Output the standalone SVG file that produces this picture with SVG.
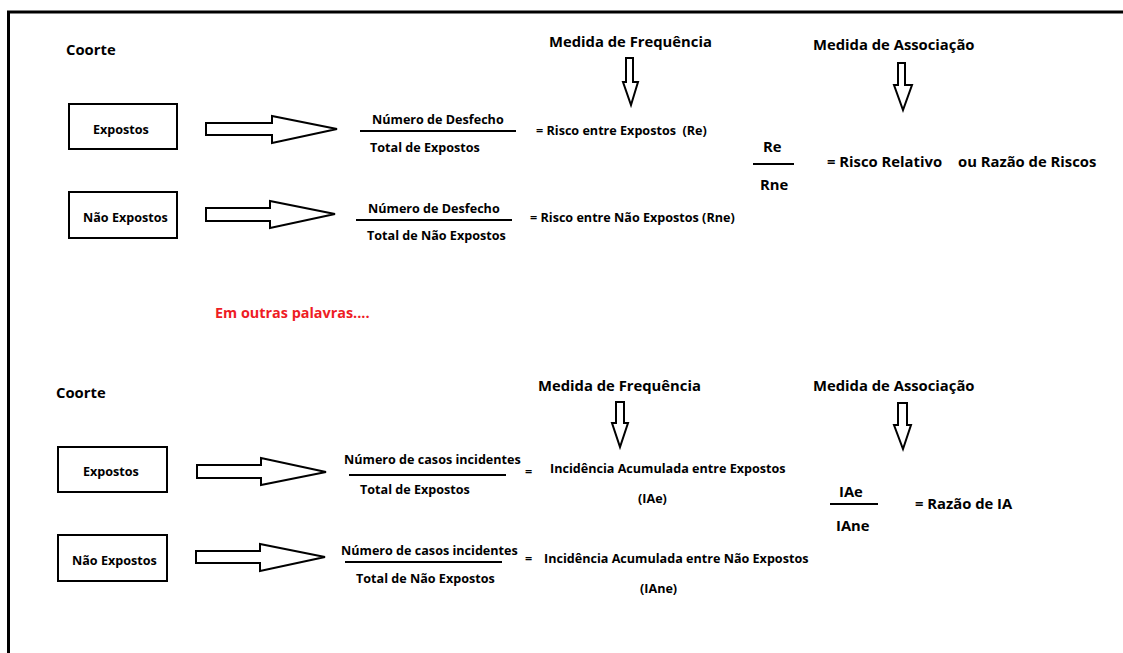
<svg xmlns="http://www.w3.org/2000/svg" width="1123" height="653" viewBox="0 0 1123 653">
<style>
text{font-family:"Open Sans","Liberation Sans",sans-serif;font-weight:bold;fill:#000}
.h{font-size:14.8px}
.s{font-size:12.6px}
.red{fill:#ee1c24;font-size:14.4px}
.box{fill:#fff;stroke:#000;stroke-width:2}
.arr{fill:#fff;stroke:#000;stroke-width:2;stroke-linejoin:miter}
.fl{stroke:#000;stroke-width:2}
</style>
<rect width="1123" height="653" fill="#fff"/>
<g id="frame"><path d="M8.5 653V12H1123" fill="none" stroke="#000" stroke-width="3"/></g>

<g id="top-coorte"><text class="h" x="66" y="55">Coorte</text></g>
<g id="top-expostos"><rect class="box" x="69" y="104" width="108" height="45"/><text class="s" x="93" y="134">Expostos</text></g>
<g id="top-nao-expostos"><rect class="box" x="69" y="192" width="108" height="46"/><text class="s" x="83" y="222">Não Expostos</text></g>

<g id="top-freq-label"><text class="h" x="549" y="47">Medida de Frequência</text></g>
<g id="top-assoc-label"><text class="h" x="813" y="50">Medida de Associação</text></g>

<g id="top-frac1">
<text class="s" x="372" y="124">Número de Desfecho</text>
<line class="fl" x1="360" y1="131" x2="516" y2="131"/>
<text class="s" x="370" y="152">Total de Expostos</text>
<text class="s" x="536" y="135" xml:space="preserve">= Risco entre Expostos  (Re)</text>
</g>
<g id="top-frac2">
<text class="s" x="368" y="213">Número de Desfecho</text>
<line class="fl" x1="356" y1="220" x2="512" y2="220"/>
<text class="s" x="367" y="240">Total de Não Expostos</text>
<text class="s" x="530" y="222">= Risco entre Não Expostos (Rne)</text>
</g>
<g id="top-ratio">
<text class="h" x="763" y="152">Re</text>
<line class="fl" x1="753" y1="164" x2="794" y2="164"/>
<text class="h" x="760" y="190">Rne</text>
<text class="h" x="827" y="167">= Risco Relativo</text>
<text class="h" x="958" y="167">ou Razão de Riscos</text>
</g>

<g id="red-note"><text class="red" x="215" y="318">Em outras palavras....</text></g>

<g id="bot-coorte"><text class="h" x="56" y="398">Coorte</text></g>
<g id="bot-expostos"><rect class="box" x="58" y="447" width="109" height="45"/><text class="s" x="83" y="476">Expostos</text></g>
<g id="bot-nao-expostos"><rect class="box" x="58" y="535" width="109" height="46"/><text class="s" x="72" y="565">Não Expostos</text></g>

<g id="bot-freq-label"><text class="h" x="538" y="391">Medida de Frequência</text></g>
<g id="bot-assoc-label"><text class="h" x="813" y="391">Medida de Associação</text></g>

<g id="bot-frac1">
<text class="s" x="344" y="464">Número de casos incidentes</text>
<line class="fl" x1="349" y1="475" x2="506" y2="475"/>
<text class="s" x="360" y="494">Total de Expostos</text>
<text class="s" x="525" y="476">=</text>
<text class="s" x="550" y="473">Incidência Acumulada entre Expostos</text>
<text class="s" x="638" y="503">(IAe)</text>
</g>
<g id="bot-frac2">
<text class="s" x="341" y="555">Número de casos incidentes</text>
<line class="fl" x1="345" y1="562" x2="502" y2="562"/>
<text class="s" x="356" y="583">Total de Não Expostos</text>
<text class="s" x="525" y="563">=</text>
<text class="s" x="544" y="563">Incidência Acumulada entre Não Expostos</text>
<text class="s" x="640" y="593">(IAne)</text>
</g>
<g id="bot-ratio">
<text class="h" x="839" y="497">IAe</text>
<line class="fl" x1="830" y1="504" x2="878" y2="504"/>
<text class="h" x="836" y="531">IAne</text>
<text class="h" x="915" y="509">= Razão de IA</text>
</g>

<g id="connectors">
<polygon class="arr" points="206,123 272,123 272,116 337,129 272,143 272,135 206,135"/>
<polygon class="arr" points="206,208 270,208 270,201 335,214 270,228 270,221 206,221"/>
<polygon class="arr" points="197,465 261,465 261,458 326,472 261,485 261,478 197,478"/>
<polygon class="arr" points="196,551 260,551 260,544 325,557 260,571 260,563 196,563"/>
<polygon class="arr" points="626,58 633,58 633,82 638,82 631,105 623,82 626,82"/>
<polygon class="arr" points="898,63 905,63 905,85 912,85 903,110 894,85 898,85"/>
<polygon class="arr" points="616,402 624,402 624,423 628,423 620,447 612,423 616,423"/>
<polygon class="arr" points="898,403 907,403 907,425 911,425 903,449 894,425 898,425"/>
</g>
</svg>
